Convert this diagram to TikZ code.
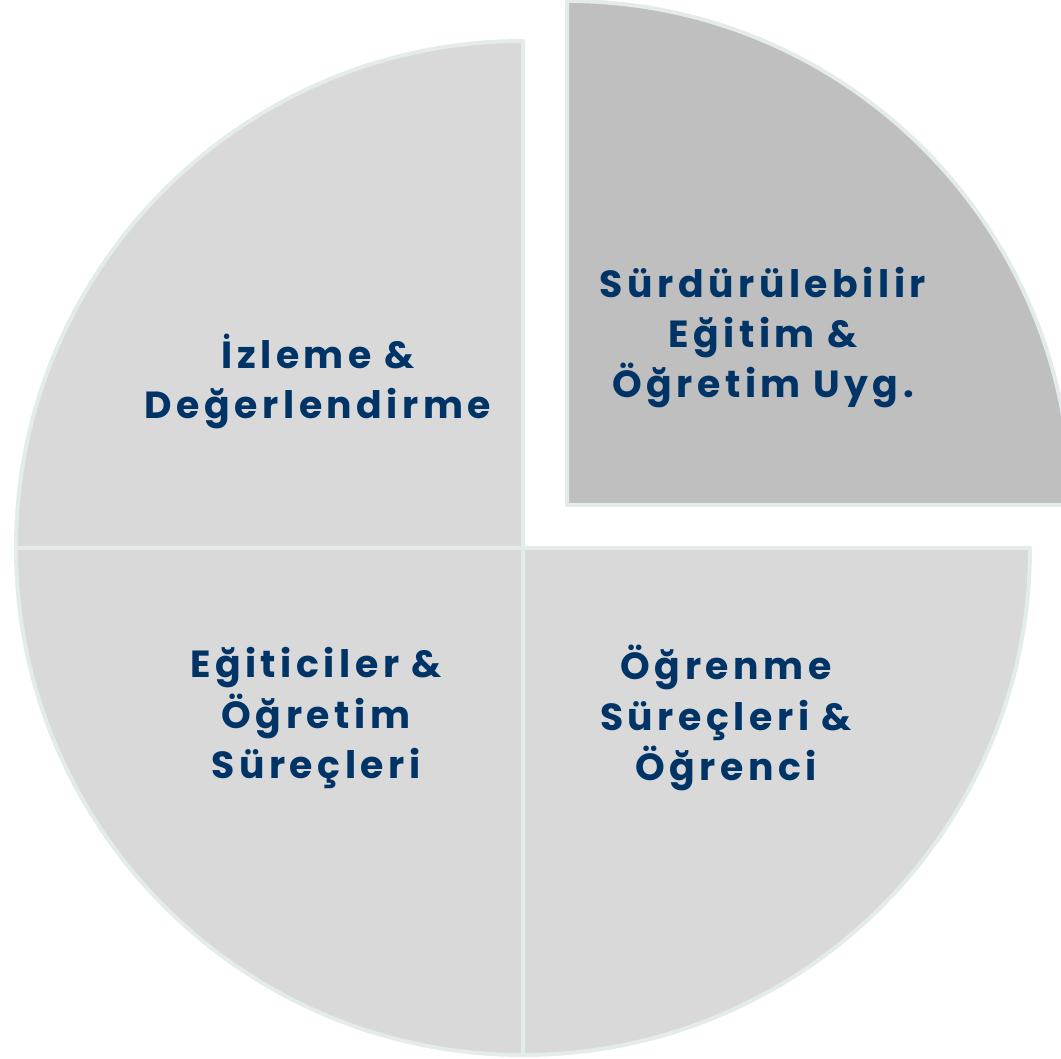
\documentclass[tikz,border=0pt]{standalone}
\usepackage{fontspec}
\newfontfamily\quadfont[LetterSpace=12]{Poppins}
\definecolor{lightq}{HTML}{D9D9D9}
\definecolor{darkq}{HTML}{BFBFBF}
\definecolor{rimgray}{HTML}{E4EBEB}
\definecolor{navy}{HTML}{003366}
\begin{document}
\begin{tikzpicture}[x=0.02cm,y=0.02cm,
  quad/.style={draw=rimgray, line width=0.08cm, line join=round},
  qlabel/.style={font=\quadfont\bfseries\fontsize{21.5}{28.5}\selectfont, text=navy, align=center}]
\useasboundingbox (0,0) rectangle (1061,1058);
\clip (0,0) rectangle (1061,1058);
\coordinate (c) at (523,510);
\coordinate (cx) at (567,553);
% four quarters, the upper right one pulled out
\filldraw[quad, fill=lightq] (c) -- ++(0,507) arc[start angle=90, end angle=180, radius=507] -- cycle;
\filldraw[quad, fill=lightq] (c) -- ++(-507,0) arc[start angle=180, end angle=270, radius=507] -- cycle;
\filldraw[quad, fill=lightq] (c) -- ++(0,-507) arc[start angle=270, end angle=360, radius=507] -- cycle;
\filldraw[quad, fill=darkq] (cx) -- ++(504,0) arc[start angle=0, end angle=90, radius=504] -- cycle;
% labels
\node[qlabel] (izleme) at (318,677) {İzleme \&\\Değerlendirme};
\node[qlabel] (surdur) at (763,720) {Sürdürülebilir\\Eğitim \&\\Öğretim Uyg.};
\node[qlabel] (egitici) at (316,340) {Eğiticiler \&\\Öğretim\\Süreçleri};
\node[qlabel] (ogrenme) at (726,340) {Öğrenme\\Süreçleri \&\\Öğrenci};
\end{tikzpicture}
\end{document}
